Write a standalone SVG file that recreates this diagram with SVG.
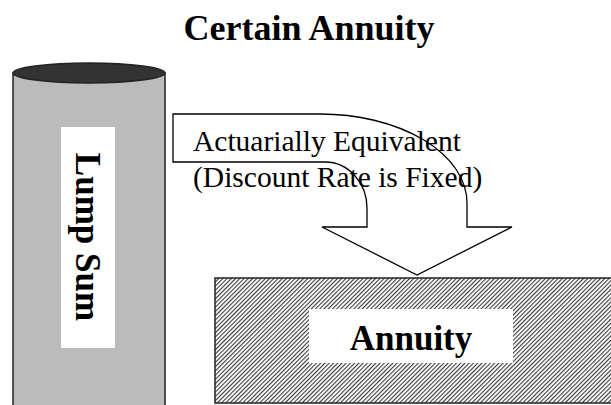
<svg xmlns="http://www.w3.org/2000/svg" width="611" height="405" viewBox="0 0 611 405">
<style>
.title{font-family:"Liberation Serif","Times New Roman",Times,serif;font-weight:bold;fill:#000}
.lbl{font-family:"Liberation Serif","Times New Roman",Times,"DejaVu Serif",serif;font-weight:normal;fill:#000}
.outline{stroke:#222;stroke-width:1.5}
</style>
<defs>
<pattern id="hatch" width="3" height="10" patternUnits="userSpaceOnUse" patternTransform="rotate(45)">
<rect width="3" height="10" fill="#ffffff"/>
<rect width="1.1" height="10" fill="#3a3a3a"/>
</pattern>
</defs>
<rect width="611" height="405" fill="#ffffff"/>
<text class="title" x="309" y="40" font-size="36" text-anchor="middle">Certain Annuity</text>
<g id="lump-sum">
<rect x="13" y="73" width="152" height="340" fill="#bbbbbb" class="outline"/>
<ellipse cx="89" cy="73" rx="76" ry="10" fill="#333333" class="outline"/>
<rect x="61" y="127" width="54" height="221" fill="#ffffff"/>
<text class="title" font-size="35" transform="translate(76,237) rotate(90)" text-anchor="middle">Lump Sum</text>
</g>
<g id="annuity">
<rect x="215" y="278" width="400" height="125" fill="url(#hatch)" class="outline"/>
<rect x="309" y="309" width="204" height="54" fill="#ffffff"/>
<text class="title" x="411" y="350" font-size="35" text-anchor="middle">Annuity</text>
</g>
<g id="connectors">
<path d="M173,114 L320,114 A147,89 0 0 1 467,203 L467,227 L512,227 L417,275 L322,227 L367,227 L367,208 A42,46 0 0 0 325,162 L173,162 Z" fill="#ffffff" stroke="#000" stroke-width="1.3"/>
<text class="lbl" x="193" y="151" font-size="29.5">Actuarially Equivalent</text>
<text class="lbl" x="193" y="187" font-size="29.5">(Discount Rate is Fixed)</text>
</g>
</svg>
